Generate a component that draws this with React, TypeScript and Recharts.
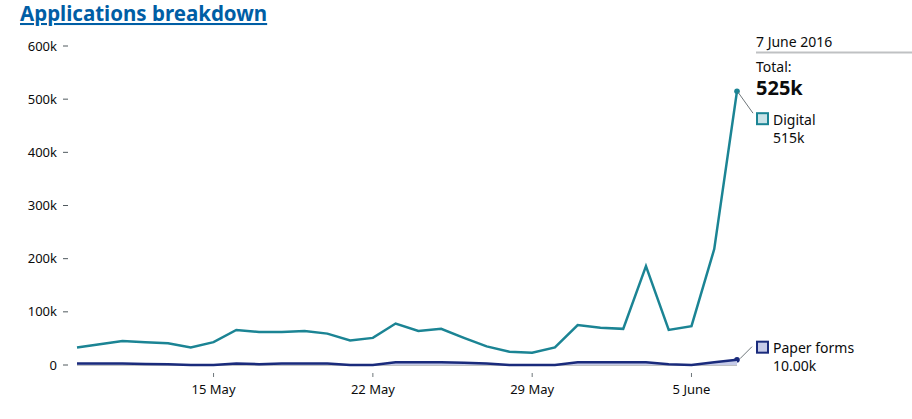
import React from 'react';
import { ComposedChart, Line, Area, XAxis, YAxis } from 'recharts';

const categories = [
  '9 May', '10 May', '11 May', '12 May', '13 May', '14 May', '15 May', '16 May',
  '17 May', '18 May', '19 May', '20 May', '21 May', '22 May', '23 May', '24 May',
  '25 May', '26 May', '27 May', '28 May', '29 May', '30 May', '31 May', '1 June',
  '2 June', '3 June', '4 June', '5 June', '6 June', '7 June',
];

const digital = [
  33000, 39000, 45000, 43000, 41000, 33000, 43000, 66000, 62000, 62000,
  64000, 59000, 46000, 51000, 78000, 64000, 68000, 51000, 35000, 25000,
  23000, 33000, 75000, 70000, 68000, 186000, 66000, 73000, 218000, 515000,
];

const paperForms = [
  3000, 3000, 3000, 2000, 1500, 0, 0, 3000, 1500, 3000,
  3000, 3000, 0, 0, 5000, 5000, 5000, 4000, 3000, 0,
  0, 0, 5000, 5000, 5000, 5000, 1500, 0, 5000, 10000,
];

const xTickIndex = [6, 13, 20, 27];
const yTicks = [0, 100000, 200000, 300000, 400000, 500000, 600000];
const seriesNames = ['Digital', 'Paper forms'];
const title = 'Applications breakdown';
const headerDate = '7 June 2016';

const data = categories.map((c, i) => ({ i, date: c, digital: digital[i], paper: paperForms[i] }));

const FONT = '"Noto Sans", sans-serif';
const TEXT = '#0b0c0c';
const TEAL = '#1b8494';
const NAVY = '#1a2b7c';
const TEAL_FILL = '#c9e3e8';
const NAVY_FILL = '#c6cbe8';
const last = categories.length - 1;

const fmtK = (v: number) => (v === 0 ? '0' : `${Math.round(v / 1000)}k`);

const XTick = (props: any) => {
  const { x, y, payload } = props;
  return (
    <g>
      <line x1={x} x2={x} y1={y + 8} y2={y + 12} stroke="#6f777b" strokeWidth={1} />
      <text x={x} y={y + 29} textAnchor="middle" fontSize={13} fontFamily={FONT} fill={TEXT}>
        {categories[payload.value]}
      </text>
    </g>
  );
};

const YTick = (props: any) => {
  const { x, y, payload } = props;
  return (
    <g>
      <line x1={x - 14} x2={x - 9} y1={y} y2={y} stroke="#505a5f" strokeWidth={1} />
      <text x={x - 20} y={y} dy="0.355em" textAnchor="end" fontSize={13} fontFamily={FONT} fill={TEXT}>
        {fmtK(payload.value)}
      </text>
    </g>
  );
};

const DigitalDot = (props: any) => {
  const { cx, cy, index } = props;
  if (index !== last || cx == null) return <g key={`d${index}`} />;
  return (
    <g key={`d${index}`}>
      <circle cx={cx} cy={cy} r={2.8} fill={TEAL} />
      <line x1={cx + 1} y1={cy + 1} x2={cx + 16} y2={cy + 22} stroke="#6f777b" strokeWidth={1} />
      <rect x={cx + 20} y={cy + 22} width={11} height={11} fill={TEAL_FILL} stroke={TEAL} strokeWidth={2} />
      <text x={cx + 36} y={cy + 34} fontSize={14} fontFamily={FONT} fill={TEXT}>{seriesNames[0]}</text>
      <text x={cx + 36} y={cy + 52} fontSize={14} fontFamily={FONT} fill={TEXT}>{fmtK(digital[last])}</text>
    </g>
  );
};

const PaperDot = (props: any) => {
  const { cx, cy, index } = props;
  if (index !== last || cx == null) return <g key={`p${index}`} />;
  return (
    <g key={`p${index}`}>
      <circle cx={cx} cy={cy} r={2.8} fill={NAVY} />
      <line x1={cx + 3} y1={cy - 1} x2={cx + 15} y2={cy - 13} stroke="#6f777b" strokeWidth={1} />
      <rect x={cx + 20} y={cy - 18} width={11} height={11} fill={NAVY_FILL} stroke={NAVY} strokeWidth={2} />
      <text x={cx + 36} y={cy - 6.5} fontSize={14} fontFamily={FONT} fill={TEXT}>{seriesNames[1]}</text>
      <text x={cx + 36} y={cy + 11.5} fontSize={14} fontFamily={FONT} fill={TEXT}>
        {`${(paperForms[last] / 1000).toFixed(2)}k`}
      </text>
    </g>
  );
};

export default function App() {
  const total = digital[last] + paperForms[last];
  return (
    <div style={{ position: 'absolute', left: 0, top: 0, width: 912, height: 419, background: '#fff', fontFamily: FONT }}>
      <ComposedChart
        width={912}
        height={419}
        data={data}
        margin={{ top: 46, right: 175, bottom: 24, left: 0 }}
      >
        <XAxis
          dataKey="i"
          type="number"
          domain={[0, last]}
          ticks={xTickIndex}
          axisLine={{ stroke: '#bfc1c3', strokeWidth: 2 }}
          tickLine={false}
          tickSize={0}
          tickMargin={0}
          height={30}
          tick={<XTick />}
          interval={0}
          zIndex={50}
        />
        <YAxis
          type="number"
          domain={[0, 600000]}
          ticks={yTicks}
          width={77}
          axisLine={false}
          tickLine={false}
          tickSize={0}
          tickMargin={0}
          tick={<YTick />}
          interval={0}
        />
        <Area
          type="linear"
          dataKey="paper"
          stroke={NAVY}
          strokeWidth={2.5}
          fill={NAVY_FILL}
          fillOpacity={1}
          dot={PaperDot}
          activeDot={false}
          isAnimationActive={false}
          zIndex={600}
        />
        <Line
          type="linear"
          dataKey="digital"
          stroke={TEAL}
          strokeWidth={2.5}
          dot={DigitalDot}
          activeDot={false}
          isAnimationActive={false}
          zIndex={700}
        />
      </ComposedChart>
      <svg width={912} height={419} style={{ position: 'absolute', left: 0, top: 0, pointerEvents: 'none' }}>
        <text x={20} y={21} fontSize={20.5} fontWeight={700} fontFamily={FONT} fill="#005ea5" textDecoration="underline">
          {title}
        </text>
        <text x={756} y={47} fontSize={14} fontFamily={FONT} fill={TEXT}>{headerDate}</text>
        <line x1={756} x2={912} y1={52.5} y2={52.5} stroke="#bfc1c3" strokeWidth={2} />
        <text x={756} y={71.5} fontSize={14} fontFamily={FONT} fill={TEXT}>Total:</text>
        <text x={756} y={95} fontSize={20} fontWeight={700} fontFamily={FONT} fill={TEXT}>{fmtK(total)}</text>
      </svg>
    </div>
  );
}
